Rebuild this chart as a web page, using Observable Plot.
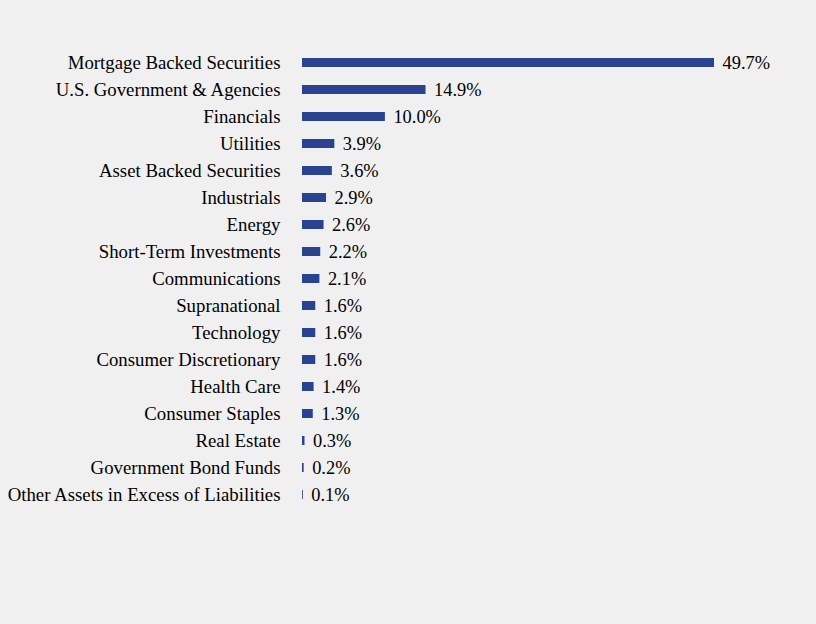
<!DOCTYPE html>
<html>
<head>
<meta charset="utf-8">
<script src="https://cdn.jsdelivr.net/npm/d3@7"></script>
<script src="https://cdn.jsdelivr.net/npm/@observablehq/plot@0.6"></script>
<style>
  html, body { margin: 0; padding: 0; background: #f0f0f0; }
  #chart { width: 816px; height: 624px; }
</style>
</head>
<body>
<div id="chart"></div>
<script>
const categories = [
  "Mortgage Backed Securities",
  "U.S. Government & Agencies",
  "Financials",
  "Utilities",
  "Asset Backed Securities",
  "Industrials",
  "Energy",
  "Short-Term Investments",
  "Communications",
  "Supranational",
  "Technology",
  "Consumer Discretionary",
  "Health Care",
  "Consumer Staples",
  "Real Estate",
  "Government Bond Funds",
  "Other Assets in Excess of Liabilities"
];
const values = [49.7, 14.9, 10.0, 3.9, 3.6, 2.9, 2.6, 2.2, 2.1, 1.6, 1.6, 1.6, 1.4, 1.3, 0.3, 0.2, 0.1];

const data = categories.map((c, i) => ({category: c, value: values[i]}));

const chart = Plot.plot({
  width: 816,
  height: 624,
  marginTop: 47.6,
  marginBottom: 115.2,
  marginLeft: 302,
  marginRight: 16.6,
  style: {background: "#f0f0f0", fontFamily: "'Liberation Serif', 'Times New Roman', serif", fontSize: "18.8px", color: "#000"},
  x: {domain: [0, 60], axis: null},
  y: {domain: categories, padding: 0, label: null, tickSize: 0, tickPadding: 22},
  marks: [
    Plot.barX(data, {x: "value", y: "category", fill: "#2a4391", insetTop: 9, insetBottom: 9}),
    Plot.text(data, {x: "value", y: "category", text: d => d.value.toFixed(1) + "%", textAnchor: "start", dx: 8, fill: "#000", fontSize: 18.4})
  ]
});
document.getElementById("chart").appendChild(chart);
</script>
</body>
</html>
